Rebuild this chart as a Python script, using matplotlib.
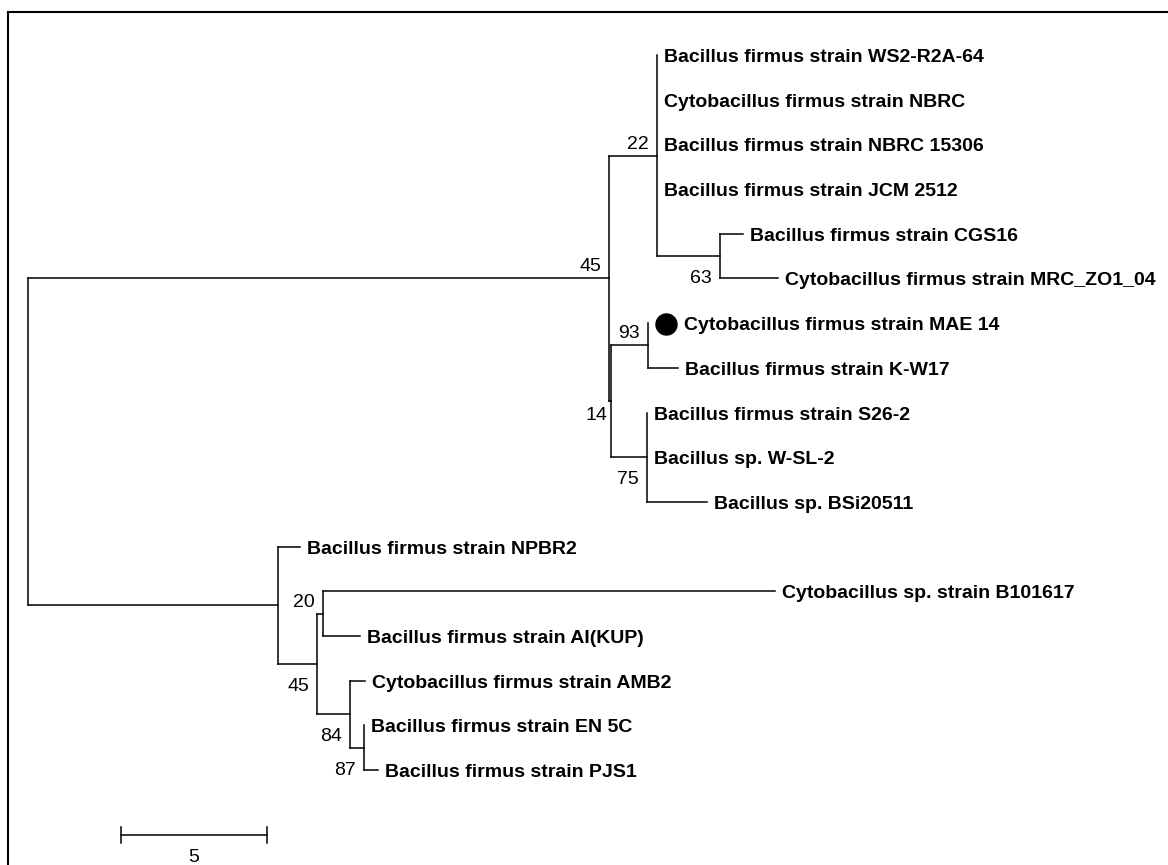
import matplotlib
matplotlib.use('Agg')
import matplotlib.pyplot as plt
from matplotlib.patches import Rectangle
from matplotlib.collections import LineCollection
import matplotlib.transforms as mtransforms
from matplotlib import font_manager

# ---------------- data ----------------
# internal nodes (parent, branch length, bootstrap support)
internal_names = ['root', 'n45a', 'n22', 'n63', 'n14', 'n93', 'n75',
                  'nA', 'n45b', 'n20', 'n84', 'n87']
internal_parent = [None, 'root', 'n45a', 'n22', 'n45a', 'n14', 'n14',
                   'root', 'nA', 'n45b', 'n45b', 'n84']
internal_length = [0.0, 19.90, 1.64, 2.16, 0.07, 1.27, 1.23,
                   8.56, 1.34, 0.21, 1.13, 0.48]
internal_support = [None, 45, 22, 63, 14, 93, 75,
                    None, 45, 20, 84, 87]

# leaves in display order (top to bottom)
leaf_names = ['Bacillus firmus strain WS2-R2A-64',
              'Cytobacillus firmus strain NBRC',
              'Bacillus firmus strain NBRC 15306',
              'Bacillus firmus strain JCM 2512',
              'Bacillus firmus strain CGS16',
              'Cytobacillus firmus strain MRC_ZO1_04',
              'Cytobacillus firmus strain MAE 14',
              'Bacillus firmus strain K-W17',
              'Bacillus firmus strain S26-2',
              'Bacillus sp. W-SL-2',
              'Bacillus sp. BSi20511',
              'Bacillus firmus strain NPBR2',
              'Cytobacillus sp. strain B101617',
              'Bacillus firmus strain AI(KUP)',
              'Cytobacillus firmus strain AMB2',
              'Bacillus firmus strain EN 5C',
              'Bacillus firmus strain PJS1']
leaf_parent = ['n22', 'n22', 'n22', 'n22', 'n63', 'n63', 'n93', 'n93',
               'n75', 'n75', 'n75', 'nA', 'n20', 'n20', 'n84', 'n87', 'n87']
leaf_length = [0.0, 0.0, 0.0, 0.0, 0.79, 1.99, 0.0, 1.03,
               0.0, 0.0, 2.05, 0.75, 15.48, 1.27, 0.51, 0.0, 0.48]
highlight_leaf = 'Cytobacillus firmus strain MAE 14'

scale_length = 5
scale_label = '5'

# ---------------- layout helpers ----------------
W, H = 1168, 865
PX_PER_UNIT = 29.2
ROOT_PX = 28
ROW0_PX = 55
ROW_PX = 44.69
PT = 0.72  # points per pixel at 100 dpi

support_side = {'n45a': 'above', 'n22': 'above', 'n63': 'below', 'n14': 'below_close',
                'n93': 'above', 'n75': 'below', 'n45b': 'below', 'n20': 'above',
                'n84': 'below', 'n87': 'below'}

installed = {f.name for f in font_manager.fontManager.ttflist}
if 'Liberation Sans Narrow' in installed:
    label_font = dict(family=['Liberation Sans Narrow', 'Liberation Sans', 'DejaVu Sans'],
                      fontsize=17, fontweight='bold', color='black')
    label_dy = -8.5
else:
    label_font = dict(family=['Liberation Sans', 'DejaVu Sans'], fontsize=14,
                      fontweight='bold', color='black')
    label_dy = -7
num_font = dict(family=['Liberation Sans', 'DejaVu Sans'], fontsize=14, color='black')

# ---------------- build tree ----------------
parent = {}
length = {}
support = {}
for n, p, l, s in zip(internal_names, internal_parent, internal_length, internal_support):
    parent[n] = p; length[n] = l; support[n] = s
for n, p, l in zip(leaf_names, leaf_parent, leaf_length):
    parent[n] = p; length[n] = l

children = {n: [] for n in internal_names}
for n in internal_names + leaf_names:
    if parent[n] is not None:
        children[parent[n]].append(n)

xpos = {}
def set_x(n, x):
    xpos[n] = x
    for c in children.get(n, []):
        set_x(c, x + length[c])
set_x('root', 0.0)

ypos = {n: i for i, n in enumerate(leaf_names)}
def set_y(n):
    if n in ypos:
        return ypos[n]
    ys = [set_y(c) for c in children[n]]
    ypos[n] = (min(ys) + max(ys)) / 2.0
    return ypos[n]
set_y('root')

# ---------------- draw ----------------
fig = plt.figure(figsize=(W / 100, H / 100), dpi=100)
ax = fig.add_axes([0, 0, 1, 1])
ax.set_xlim(-ROOT_PX / PX_PER_UNIT, (W - ROOT_PX) / PX_PER_UNIT)
ax.set_ylim((H - ROW0_PX) / ROW_PX, -ROW0_PX / ROW_PX)
ax.axis('off')

segs = []
for n in internal_names + leaf_names:
    p = parent[n]
    if p is not None and length[n] > 0:
        segs.append([(xpos[p], ypos[n]), (xpos[n], ypos[n])])
for n in internal_names:
    ys = [ypos[c] for c in children[n]]
    segs.append([(xpos[n], min(ys)), (xpos[n], max(ys))])
ax.add_collection(LineCollection(segs, colors='black', linewidths=1.1,
                                 capstyle='projecting'))

for n in leaf_names:
    dx = 7
    if n == highlight_leaf:
        tr = mtransforms.offset_copy(ax.transData, fig=fig, x=18 * PT, y=-1 * PT,
                                     units='points')
        ax.plot([xpos[n]], [ypos[n]], 'o', color='black', ms=21 * PT,
                transform=tr, clip_on=False)
        dx = 36
    ax.annotate(n, xy=(xpos[n], ypos[n]), xytext=(dx * PT, label_dy * PT),
                textcoords='offset points', ha='left', va='baseline', **label_font)

for n in internal_names:
    s = support[n]
    if s is None:
        continue
    side = support_side[n]
    dy = {'above': 7, 'below': -27, 'below_close': -19}[side]
    dx = -4 if side == 'below_close' else -8
    ax.annotate(str(s), xy=(xpos[n], ypos[n]), xytext=(dx * PT, dy * PT),
                textcoords='offset points', ha='right', va='baseline', **num_font)

# scale bar
sb_x0 = (121 - ROOT_PX) / PX_PER_UNIT
sb_y = (835 - ROW0_PX) / ROW_PX
tick = 8 / ROW_PX
ax.plot([sb_x0, sb_x0 + scale_length], [sb_y, sb_y], color='black', lw=1.1)
for xx in (sb_x0, sb_x0 + scale_length):
    ax.plot([xx, xx], [sb_y - tick, sb_y + tick], color='black', lw=1.1)
ax.annotate(scale_label, xy=(sb_x0 + scale_length / 2, sb_y), xytext=(0, -27 * PT),
            textcoords='offset points', ha='center', va='baseline', **num_font)

# frame (clipped by the image on the right and bottom)
frame = Rectangle((8 / W, -0.05), 1.2, (1 - 12 / H) + 0.05, transform=fig.transFigure,
                  fill=False, ec='black', lw=1.5, clip_on=False)
fig.add_artist(frame)

fig.savefig('out.png', dpi=100)
